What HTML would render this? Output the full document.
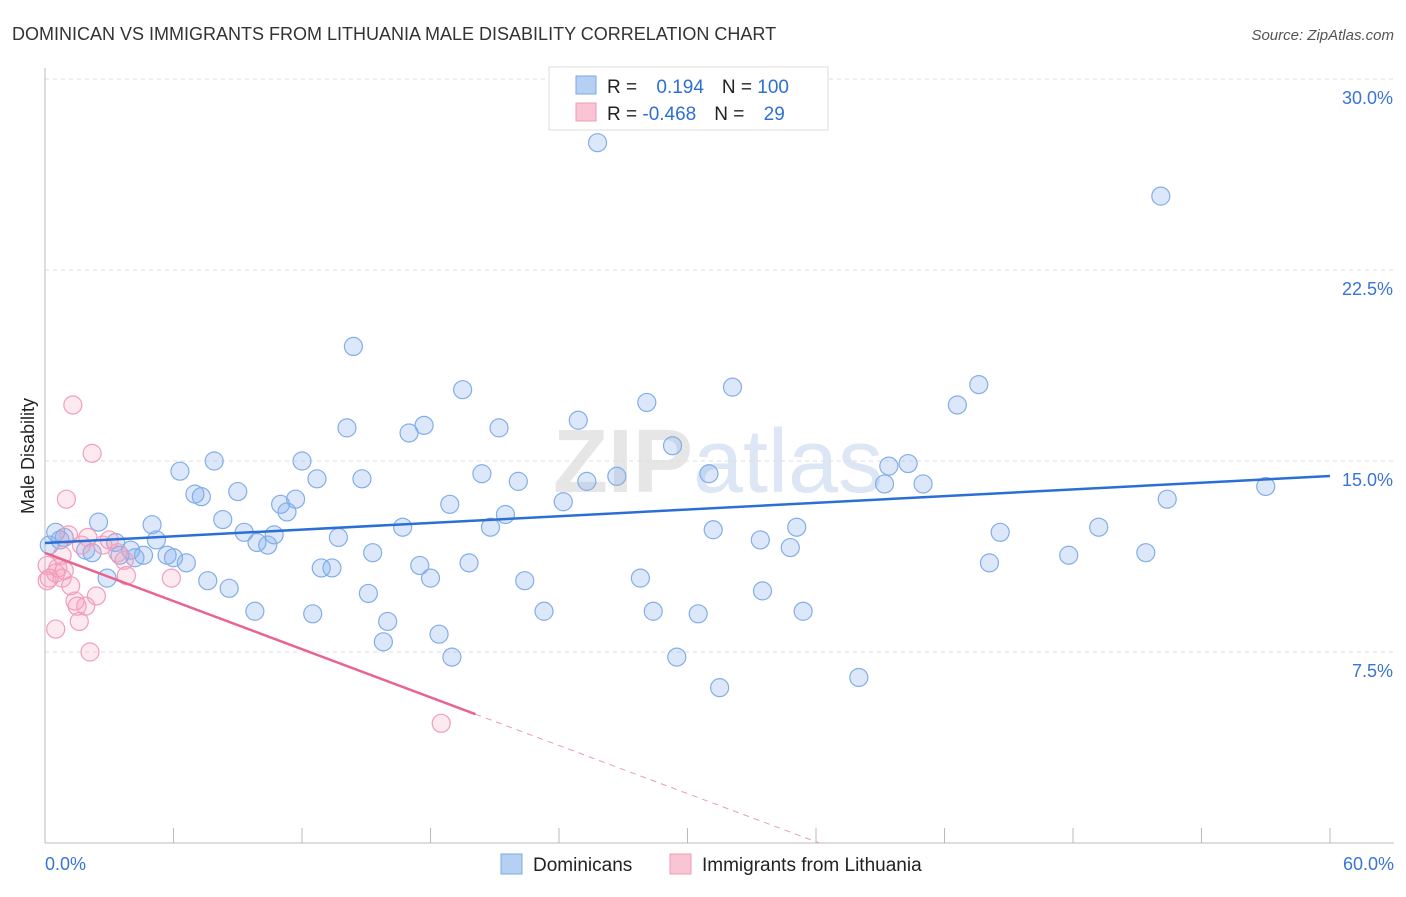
<!DOCTYPE html>
<html><head><meta charset="utf-8"><style>
body{margin:0;background:#fff;font-family:"Liberation Sans",sans-serif;}
svg text{font-family:"Liberation Sans",sans-serif;}
</style></head><body>
<svg width="1406" height="892" viewBox="0 0 1406 892" xmlns="http://www.w3.org/2000/svg" id="chart">
<text x="12" y="40" font-size="18" fill="#333">DOMINICAN VS IMMIGRANTS FROM LITHUANIA MALE DISABILITY CORRELATION CHART</text>
<text x="1394" y="40" font-size="15" fill="#555" text-anchor="end" font-style="italic">Source: ZipAtlas.com</text>
<text x="718" y="492" font-size="90" fill="#e6e6e6" text-anchor="middle" font-family="Liberation Serif"><tspan font-weight="bold">ZIP</tspan><tspan fill="#dce6f4" font-family="Liberation Sans">atlas</tspan></text>
<text transform="translate(34,456) rotate(-90)" font-size="18" fill="#222" text-anchor="middle">Male Disability</text>
<g id="grid"></g><g id="marks"></g>
<g>
<rect x="549" y="67" width="279" height="63" fill="#fff" stroke="#ddd"/>
<rect x="576" y="76" width="20" height="18" fill="#b5d0f3" stroke="#7aa7e4"/>
<rect x="576" y="103" width="20" height="18" fill="#f9c5d5" stroke="#f09ab5"/>
<text x="607" y="93" font-size="19" fill="#222">R = <tspan fill="#2f6fd4" dx="14">0.194</tspan><tspan dx="18" fill="#222">N = </tspan><tspan fill="#2f6fd4">100</tspan></text>
<text x="607" y="120" font-size="19" fill="#222">R = <tspan fill="#2f6fd4">-0.468</tspan><tspan dx="18" fill="#222">N = </tspan><tspan fill="#2f6fd4" dx="14">29</tspan></text>
</g>
<g>
<rect x="501" y="854" width="21" height="20" fill="#b5d0f3" stroke="#7aa7e4"/>
<text x="533" y="871" font-size="19" fill="#222">Dominicans</text>
<rect x="670" y="854" width="21" height="20" fill="#f9c5d5" stroke="#f09ab5"/>
<text x="702" y="871" font-size="19" fill="#222">Immigrants from Lithuania</text>
</g>
</svg>
<script>
const blueX=[25.8,52.1,14.4,19.5,32.1,43.6,28.1,42.6,24.9,14.1,17.7,17.0,21.2,29.3,6.3,7.9,12.0,20.4,26.7,31.0,39.4,40.3,12.7,14.8,22.1,25.3,39.2,41.0,7.0,7.3,9.0,11.7,11.0,18.9,24.2,52.4,57.0,11.3,21.5,2.5,8.3,5.0,16.7,20.8,31.2,35.1,49.2,44.6,9.3,10.7,0.5,0.9,3.3,5.2,9.9,10.4,13.7,33.4,34.8,4.0,1.9,2.2,3.5,4.6,5.7,6.0,4.2,15.3,47.8,51.4,6.6,12.9,13.4,17.5,19.8,44.1,2.9,7.6,18.0,22.4,27.8,8.6,15.1,33.5,9.8,12.5,23.3,28.4,30.5,35.4,16.0,18.4,15.8,19.0,29.5,38.0,31.5,0.2,0.7];
const blueY=[27.5,25.4,19.5,17.8,17.9,18.0,17.3,17.2,16.6,16.3,16.4,16.1,16.3,15.6,14.6,15.0,15.0,14.5,14.4,14.5,14.8,14.9,14.3,14.3,14.2,14.2,14.1,14.1,13.7,13.6,13.8,13.5,13.3,13.3,13.4,13.5,14.0,13.0,12.9,12.6,12.7,12.5,12.4,12.4,12.3,12.4,12.4,12.2,12.2,12.1,12.2,12.0,11.8,11.9,11.8,11.7,12.0,11.9,11.6,11.5,11.5,11.4,11.3,11.3,11.3,11.2,11.2,11.4,11.3,11.4,11.0,10.8,10.8,10.9,11.0,11.0,10.4,10.3,10.4,10.3,10.4,10.0,9.8,9.9,9.1,9.0,9.1,9.1,9.0,9.1,8.7,8.2,7.9,7.3,7.3,6.5,6.1,11.7,11.9];
const pinkX=[1.3,2.2,1.0,1.1,2.0,2.7,3.4,3.7,0.1,0.6,0.9,0.2,0.5,0.1,0.8,1.2,3.8,5.9,1.4,1.9,2.4,1.5,1.6,0.5,2.1,18.5,0.8,1.7,3.0];
const pinkY=[17.2,15.3,13.5,12.1,12.0,11.7,11.4,11.1,10.9,10.8,10.7,10.4,10.6,10.3,10.4,10.1,10.5,10.4,9.5,9.3,9.7,9.3,8.7,8.4,7.5,4.7,11.3,11.7,11.9];
const yTicks=[7.5,15,22.5,30];
const yTickLabels=["7.5%","15.0%","22.5%","30.0%"];
const xTicks=[0,6,12,18,24,30,36,42,48,54,60];
const blueTrend=[11.78,14.41];
const pinkTrend={intercept:11.39,slope:-0.315,solidEnd:20.1};

const X0=45,X1=1330,Y0=843,Y1=79;
const sx=v=>X0+(v/60)*(X1-X0);
const sy=v=>Y0-(v/30)*(Y0-Y1);
const NS="http://www.w3.org/2000/svg";
function mk(tag,attrs,parent){const e=document.createElementNS(NS,tag);for(const k in attrs)e.setAttribute(k,attrs[k]);parent.appendChild(e);return e;}
const grid=document.getElementById('grid'),marks=document.getElementById('marks');

yTicks.forEach((t,i)=>{
 const g=mk('line',{x1:X0,x2:1394,y1:sy(t),y2:sy(t),stroke:'#ddd','stroke-dasharray':'4,4'},grid);
 
 
 const l=mk('text',{x:1393,y:sy(t)+25,'font-size':18,fill:'#3a74d4','text-anchor':'end'},grid);
 l.textContent=yTickLabels[i];
 
 
});
const ax=mk('line',{x1:X0,x2:X0,y1:68,y2:Y0,stroke:'#bbb'},grid);


const bx=mk('line',{x1:X0,x2:1394,y1:Y0,y2:Y0,stroke:'#bbb'},grid);


xTicks.forEach(t=>{
 const tk=mk('line',{x1:sx(t),x2:sx(t),y1:828,y2:Y0,stroke:'#bbb'},grid);
 
 
});
const xl0=mk('text',{x:45,y:870,'font-size':18,fill:'#3a74d4'},grid);xl0.textContent='0.0%';


const xl1=mk('text',{x:1394,y:870,'font-size':18,fill:'#3a74d4','text-anchor':'end'},grid);xl1.textContent='60.0%';



blueX.forEach((v,i)=>{
 const c=mk('circle',{cx:sx(v),cy:sy(blueY[i]),r:9,fill:'rgba(130,172,238,0.28)',stroke:'#82aee8','stroke-width':1.2},marks);
 
 
});
pinkX.forEach((v,i)=>{
 const c=mk('circle',{cx:sx(v),cy:sy(pinkY[i]),r:9,fill:'rgba(245,160,188,0.22)',stroke:'#f29dba','stroke-width':1.2},marks);
 
 
});
const bt=mk('line',{x1:sx(0),y1:sy(blueTrend[0]),x2:sx(60),y2:sy(blueTrend[1]),stroke:'#2b6fd6','stroke-width':2.5},marks);


const pe=pinkTrend.solidEnd,pz=-pinkTrend.intercept/pinkTrend.slope;
const pt=mk('line',{x1:sx(0),y1:sy(pinkTrend.intercept),x2:sx(pe),y2:sy(pinkTrend.intercept+pinkTrend.slope*pe),stroke:'#e8648f','stroke-width':2.5},marks);


const pd=mk('line',{x1:sx(pe),y1:sy(pinkTrend.intercept+pinkTrend.slope*pe),x2:sx(pz),y2:sy(0),stroke:'#f09ab5','stroke-width':1,'stroke-dasharray':'6,5'},marks);


</script>
</body></html>
